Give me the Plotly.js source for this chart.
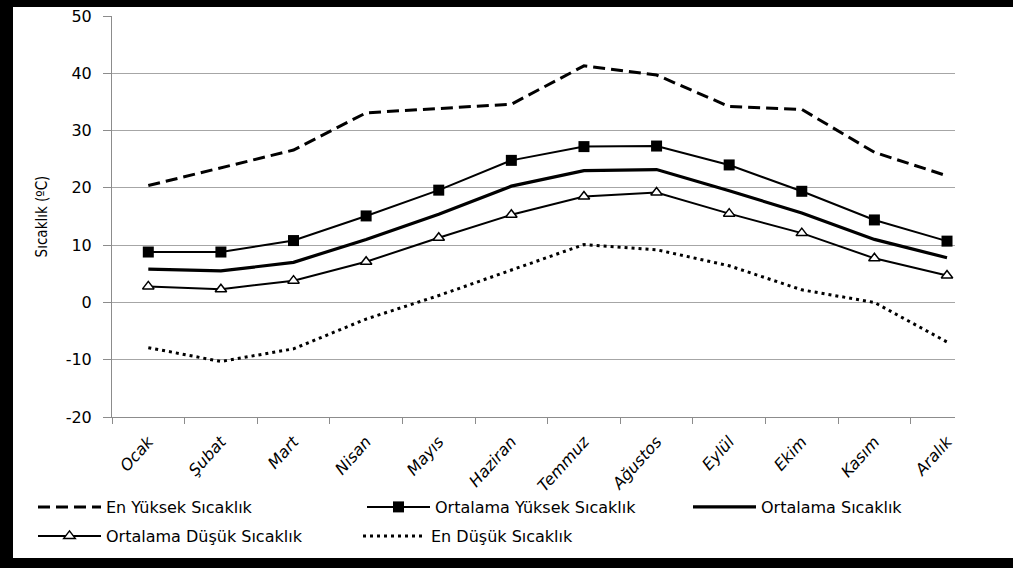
<!DOCTYPE html>
<html>
<head>
<meta charset="utf-8">
<script src="https://cdn.plot.ly/plotly-3.0.1.min.js"></script>
<style>
  html, body { margin: 0; padding: 0; background: #fff; overflow: hidden; }
  #chart { position: absolute; left: 0; top: 0; width: 1013px; height: 568px; }
  .bar { position: absolute; background: #000; z-index: 10; }
</style>
</head>
<body>
<div id="chart"></div>
<div class="bar" style="left:0;top:0;width:1013px;height:7px"></div>
<div class="bar" style="left:0;top:0;width:13px;height:568px"></div>
<div class="bar" style="left:0;top:558px;width:1013px;height:10px"></div>
<script>
// ---- data ----
const months = ['Ocak', 'Şubat', 'Mart', 'Nisan', 'Mayıs', 'Haziran', 'Temmuz', 'Ağustos', 'Eylül', 'Ekim', 'Kasım', 'Aralık'];
const enYuksek  = [20.4, 23.5, 26.6, 33.1, 33.9, 34.6, 41.3, 39.7, 34.2, 33.7, 26.2, 22.1];
const ortYuksek = [8.8, 8.8, 10.8, 15.1, 19.6, 24.8, 27.2, 27.3, 24.0, 19.4, 14.4, 10.7];
const ortalama  = [5.8, 5.5, 7.0, 11.0, 15.4, 20.3, 23.0, 23.2, 19.5, 15.6, 11.0, 7.8];
const ortDusuk  = [2.8, 2.3, 3.8, 7.1, 11.3, 15.3, 18.5, 19.2, 15.5, 12.1, 7.7, 4.7];
const enDusuk   = [-7.9, -10.3, -8.1, -2.9, 1.2, 5.6, 10.1, 9.2, 6.4, 2.2, 0.0, -6.9];
const seriesNames = ['En Yüksek Sıcaklık', 'Ortalama Yüksek Sıcaklık', 'Ortalama Sıcaklık', 'Ortalama Düşük Sıcaklık', 'En Düşük Sıcaklık'];
const yTickVals = [-20, -10, 0, 10, 20, 30, 40, 50];
const yTickText = ['-20', '-10', '0', '10', '20', '30', '40', '50'];
const yTitle = 'Sıcaklık (ºC)';

// ---- layout geometry ----
const M = { l: 112, r: 58, t: 16, b: 151 };
const W = 1013, H = 568;
const pw = W - M.l - M.r, ph = H - M.t - M.b;
function px2x(ax) { return (ax - M.l) / pw; }
function px2y(ay) { return (H - M.b - ay) / ph; }

const legFont = { family: 'DejaVu Sans', size: 16, color: '#000' };
function leg(ax, ay) {
  return { x: px2x(ax), y: px2y(ay), xanchor: 'left', yanchor: 'middle', orientation: 'h',
           bgcolor: 'rgba(0,0,0,0)', borderwidth: 0, font: legFont, itemwidth: 63, tracegroupgap: 0 };
}

const traces = [
  { x: months, y: enYuksek, name: seriesNames[0], mode: 'lines', legend: 'legend',
    line: { color: '#000', width: 3, dash: '12px,6px' } },
  { x: months, y: ortYuksek, name: seriesNames[1], mode: 'lines+markers', legend: 'legend2',
    line: { color: '#000', width: 2 }, marker: { symbol: 'square', size: 11, color: '#000' } },
  { x: months, y: ortalama, name: seriesNames[2], mode: 'lines', legend: 'legend3',
    line: { color: '#000', width: 3.2 } },
  { x: months, y: ortDusuk, name: seriesNames[3], mode: 'lines+markers', legend: 'legend4',
    line: { color: '#000', width: 2 },
    marker: { symbol: 'triangle-up', size: 10, color: '#fff', line: { color: '#000', width: 1.5 } } },
  { x: months, y: enDusuk, name: seriesNames[4], mode: 'lines', legend: 'legend5',
    line: { color: '#000', width: 3, dash: '3px,4px' } }
];

const layout = {
  width: W, height: H,
  margin: M,
  paper_bgcolor: '#fff', plot_bgcolor: '#fff',
  showlegend: true,
  xaxis: {
    type: 'category', range: [-0.5, 11.11], fixedrange: true,
    showgrid: false, zeroline: false,
    showline: true, linecolor: '#8c8c8c', linewidth: 1,
    ticks: 'outside', tickson: 'boundaries', ticklen: 6, tickcolor: '#8c8c8c',
    tickangle: -48, ticklabelstandoff: 8,
    tickfont: { family: 'DejaVu Sans', size: 16, color: '#000', style: 'italic' }
  },
  yaxis: {
    range: [-20, 50], tickmode: 'array', tickvals: yTickVals, ticktext: yTickText, fixedrange: true,
    showgrid: true, gridcolor: '#a6a6a6', gridwidth: 1, zeroline: false,
    showline: true, linecolor: '#8c8c8c', linewidth: 1,
    ticks: 'outside', ticklen: 8, tickcolor: '#8c8c8c', ticklabelstandoff: 8,
    ticklabeloverflow: 'allow',
    tickfont: { family: 'DejaVu Sans', size: 16, color: '#000' },
    title: { text: yTitle, font: { family: 'Liberation Sans Narrow, DejaVu Sans Condensed, sans-serif', size: 15, color: '#000' }, standoff: 14 }
  },
  legend:  leg(33, 507),
  legend2: leg(362, 507),
  legend3: leg(688, 507),
  legend4: leg(33, 536),
  legend5: leg(358, 536)
};

Plotly.newPlot('chart', traces, layout, { displayModeBar: false, staticPlot: true });
</script>
</body>
</html>
